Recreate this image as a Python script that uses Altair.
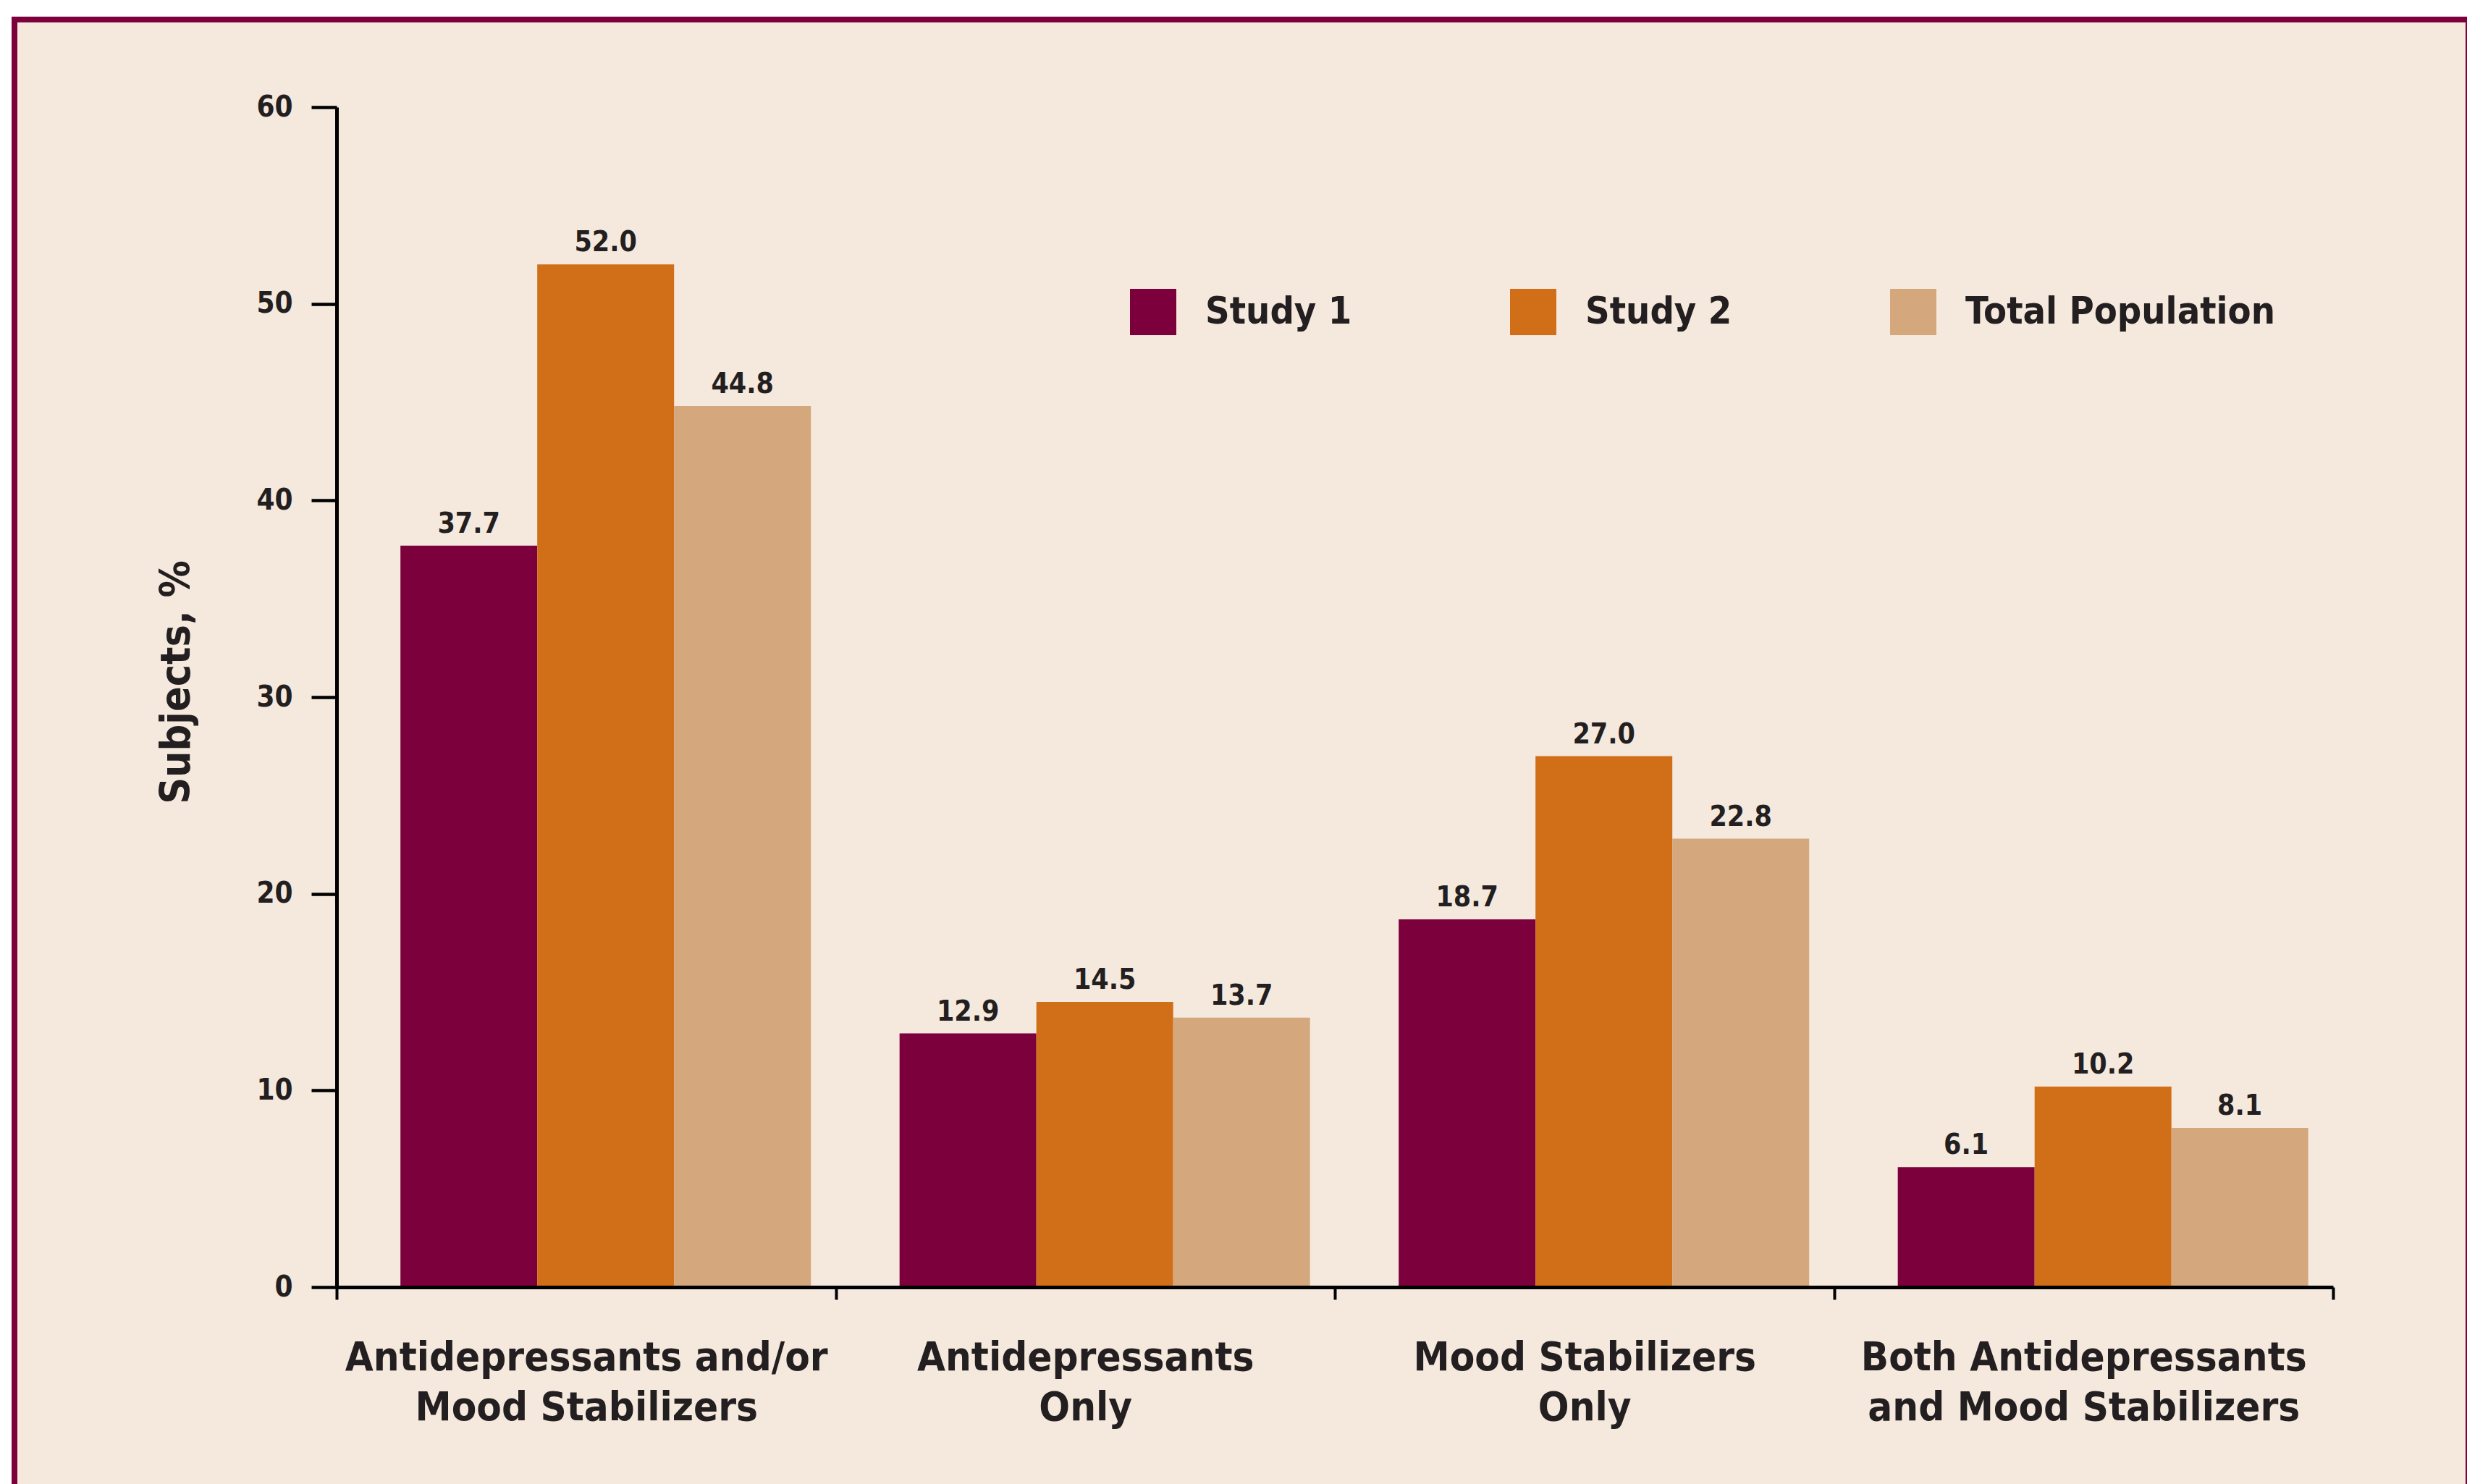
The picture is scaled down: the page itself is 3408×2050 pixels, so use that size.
import altair as alt
import pandas as pd

# ---- data ----
categories = [
    "Antidepressants and/or|Mood Stabilizers",
    "Antidepressants|Only",
    "Mood Stabilizers|Only",
    "Both Antidepressants|and Mood Stabilizers",
]
series_names = ["Study 1", "Study 2", "Total Population"]
study1 = [37.7, 12.9, 18.7, 6.1]
study2 = [52.0, 14.5, 27.0, 10.2]
total_pop = [44.8, 13.7, 22.8, 8.1]
y_ticks = [0, 10, 20, 30, 40, 50, 60]
colors = ["#7B003C", "#D06F18", "#D4A77D"]

rows = []
for s, vals in zip(series_names, [study1, study2, total_pop]):
    for c, v in zip(categories, vals):
        rows.append({"category": c, "series": s, "value": v})
df = pd.DataFrame(rows)

FONT = "Liberation Sans Narrow, DejaVu Sans Condensed, Arial Narrow, sans-serif"
TXT = "#231F20"
BG = "#F5E9DE"
FRAME = "#7B003C"

W, H = 2758, 1630

x_enc = alt.X(
    "category:N",
    sort=categories,
    scale=alt.Scale(paddingInner=0, paddingOuter=0),
    axis=alt.Axis(
        title=None,
        labelAngle=0,
        tickBand="extent",
        tickSize=17,
        tickWidth=4,
        tickColor="black",
        domainWidth=5,
        domainColor="black",
        labelFont=FONT,
        labelFontSize=56,
        labelFontWeight="bold",
        labelColor=TXT,
        labelLineHeight=69,
        labelPadding=53,
        labelLimit=2000,
        labelExpr="split(datum.label, '|')",
        zindex=1,
    ),
)
xoff_enc = alt.XOffset(
    "series:N",
    sort=series_names,
    scale=alt.Scale(domain=series_names, paddingInner=0, paddingOuter=0.324, align=0.72),
)
y_enc = alt.Y(
    "value:Q",
    scale=alt.Scale(domain=[0, 60], nice=False),
    axis=alt.Axis(
        values=y_ticks,
        grid=False,
        tickSize=35,
        tickWidth=4.5,
        tickColor="black",
        domainWidth=5,
        domainColor="black",
        labelFont=FONT,
        labelFontSize=40,
        labelFontWeight="bold",
        labelColor=TXT,
        labelPadding=26,
        title="Subjects, %",
        titleFont=FONT,
        titleFontSize=57,
        titleFontWeight="bold",
        titleColor=TXT,
        titleAngle=270,
        titleX=-204,
        titleY=794,
        titleAlign="center",
        titleBaseline="alphabetic",
        zindex=1,
    ),
)

frame = alt.Chart(pd.DataFrame({"k": [0]})).mark_rect(
    fill=BG, stroke=FRAME, strokeWidth=8
).encode(
    x=alt.value(-445), x2=alt.value(2945), y=alt.value(-121), y2=alt.value(1930)
)

bars = alt.Chart(df).mark_bar().encode(
    x=x_enc,
    xOffset=xoff_enc,
    y=y_enc,
    color=alt.Color(
        "series:N",
        sort=series_names,
        scale=alt.Scale(domain=series_names, range=colors),
        legend=alt.Legend(
            title=None,
            orient="none",
            legendX=1096,
            legendY=251,
            direction="horizontal",
            symbolType="square",
            symbolSize=4096,
            symbolStrokeWidth=0,
            symbolOpacity=1,
            labelFont=FONT,
            labelFontSize=52,
            labelFontWeight="bold",
            labelColor=TXT,
            labelOffset=40,
            labelLimit=2000,
            columnPadding=218,
            padding=0,
        ),
    ),
)

labels = alt.Chart(df).mark_text(
    font=FONT, fontSize=39, fontWeight="bold", color=TXT, baseline="alphabetic", dy=-18
).encode(
    x=alt.X("category:N", sort=categories),
    xOffset=alt.XOffset("series:N", sort=series_names),
    y=alt.Y("value:Q"),
    text=alt.Text("value:Q", format=".1f"),
)

chart = alt.layer(frame, bars, labels).properties(
    width=W,
    height=H,
    background="white",
    padding={"left": 465, "top": 148, "right": 185, "bottom": 272},
    autosize=alt.AutoSizeParams(type="none"),
).configure_view(strokeWidth=0)

chart.save("out.html", embed_options={"renderer": "svg", "actions": False})
